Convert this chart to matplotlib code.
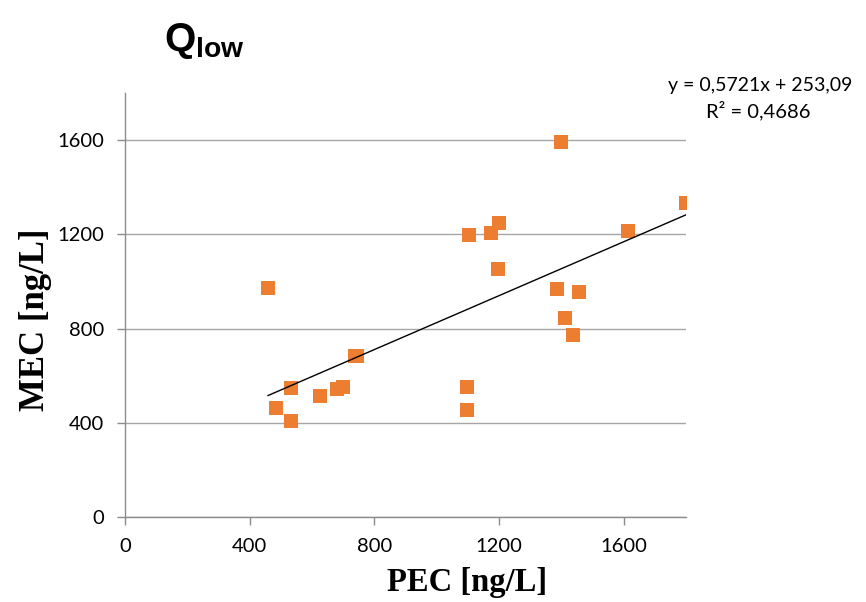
import matplotlib
matplotlib.use("Agg")
import matplotlib.pyplot as plt
import numpy as np

# Data
pec = [459, 534, 483, 534, 625, 680, 698, 737, 745,
       1103, 1175, 1199, 1197, 1386, 1458, 1413, 1437,
       1615, 1800, 1098, 1098, 1400]
mec = [973, 548, 463, 409, 512, 543, 550, 685, 685,
       1197, 1207, 1250, 1051, 966, 956, 843, 774,
       1214, 1332, 552, 455, 1590]
slope = 0.5721
intercept = 253.09
r2_text = "R² = 0,4686"
eq_text = "y = 0,5721x + 253,09"
ticks = [0, 400, 800, 1200, 1600]

plt.rcParams['mathtext.fontset'] = 'custom'
plt.rcParams['mathtext.bf'] = 'Liberation Sans:bold'
plt.rcParams['mathtext.rm'] = 'Liberation Sans'

W, H = 866, 602
fig = plt.figure(figsize=(W / 100, H / 100), dpi=100)
left, right, top, bottom = 125, 686, 93, 517
ax = fig.add_axes([left / W, (H - bottom) / H, (right - left) / W, (bottom - top) / H])

ax.set_xlim(0, 1800)
ax.set_ylim(0, 1800)
ax.set_xticks(ticks)
ax.set_yticks(ticks)
ax.grid(axis='y', color='#A6A6A6', linewidth=1)
ax.set_axisbelow(True)
for s in ['top', 'right']:
    ax.spines[s].set_visible(False)
for s in ['left', 'bottom']:
    ax.spines[s].set_color('#8C8C8C')
    ax.spines[s].set_linewidth(1)
ax.tick_params(direction='out', length=6, width=1, color='#8C8C8C',
               labelsize=14.5, pad=9)
for lab in ax.get_xticklabels() + ax.get_yticklabels():
    lab.set_family('Lato')

ax.scatter(pec, mec, marker='s', s=100, color='#ED7D31', zorder=3, linewidths=0)

xs = np.array([min(pec), max(pec)])
ax.plot(xs, slope * xs + intercept, color='black', linewidth=1, zorder=4)

fig.text(467 / W, 1 - 583 / H, 'PEC [ng/L]', fontsize=23.5, fontweight='bold',
         family='Liberation Serif', ha='center', va='center')
fig.text(36 / W, 1 - 320 / H, 'MEC [ng/L]', fontsize=25, fontweight='bold',
         family='Liberation Serif', ha='center', va='center', rotation=90)

fig.text(760 / W, 1 - 86 / H, eq_text, fontsize=14, family='Lato', ha='center', va='center')
fig.text(758 / W, 1 - 111 / H, r2_text, fontsize=14.5, family='Lato', ha='center', va='center')

fig.text(164 / W, 1 - 51 / H, r'$\mathbf{Q_{low}}$', fontsize=29, ha='left', va='baseline')

fig.savefig('out.png', dpi=100)
